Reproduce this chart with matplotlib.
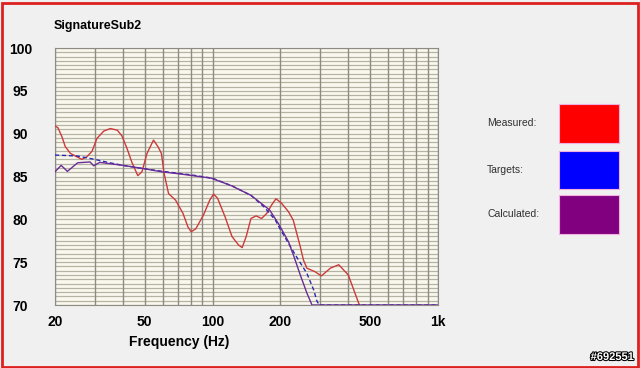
import matplotlib.pyplot as plt
import matplotlib.patheffects as pe
from matplotlib.patches import Rectangle
import numpy as np

plt.rcParams['font.family'] = ['Liberation Sans', 'DejaVu Sans']

# measured response (red)
meas_f = [20, 20.6, 21.5, 22.2, 23.4, 25.0, 26.3, 27.7, 29.2, 30.7, 32.9, 35.2, 37.8,
          39.6, 41.7, 43.8, 46.6, 48.6, 51.2, 54.7, 57.2, 59.3, 60.9, 63.8, 68.5, 73.9,
          77.8, 80.4, 84.3, 91.1, 97.2, 101.1, 105.3, 113.6, 121.9, 130.4, 135.3, 141,
          148, 156, 165, 174, 183, 191, 202, 217, 228, 245, 253, 262, 284, 304, 333,
          363, 400, 445, 470]
meas_db = [90.9, 90.7, 89.6, 88.5, 87.7, 87.3, 87.0, 87.3, 87.95, 89.45, 90.3, 90.6, 90.4,
           89.75, 88.3, 86.7, 85.1, 85.55, 87.7, 89.25, 88.5, 87.7, 85.4, 83.0, 82.25, 80.7,
           79.1, 78.55, 78.9, 80.5, 82.25, 82.95, 82.45, 80.3, 78.0, 77.0, 76.7, 78.0,
           80.1, 80.4, 80.1, 80.7, 81.7, 82.4, 81.9, 80.9, 79.9, 76.8, 75.25, 74.3, 73.9,
           73.4, 74.3, 74.7, 73.5, 70.2, 69.0]

# target response (blue dashed)
targ_f = [20, 25, 30, 35, 40, 50, 60, 80, 100, 122, 148, 170, 190, 200, 236, 262,
          281, 290, 297, 1000]
targ_db = [87.5, 87.4, 87.0, 86.6, 86.3, 85.9, 85.6, 85.2, 84.8, 83.9, 82.8, 81.4,
           79.9, 78.8, 75.6, 73.7, 71.75, 70.5, 70.0, 70.0]

# calculated response (purple)
calc_f = [20, 21.3, 22.7, 25.2, 28.6, 29.7, 31.6, 35, 40, 50, 59.3, 71.8, 98.8, 121.9,
          148, 179, 196, 217, 230, 245, 262, 276, 1000]
calc_db = [85.55, 86.3, 85.6, 86.6, 86.7, 86.25, 86.65, 86.5, 86.3, 85.9, 85.55, 85.3,
           84.8, 83.9, 82.8, 81.1, 79.5, 77.4, 75.6, 73.5, 71.4, 70.0, 70.0]

xticks = [20, 50, 100, 200, 500, 1000]
xlabels = ['20', '50', '100', '200', '500', '1k']
yticks = [70, 75, 80, 85, 90, 95, 100]

legend_names = ['Measured:', 'Targets:', 'Calculated:']
legend_colors = ['#ff0000', '#0000ff', '#800080']

fig = plt.figure(figsize=(6.4, 3.68), dpi=100, facecolor='#f0f0f0')
W, H = 640, 368
ax = fig.add_axes([55 / W, 1 - 305 / H, 383 / W, 257 / H])
ax.set_facecolor('#faf8ee')

ax.set_xscale('log')
ax.set_xlim(20, 1000)
ax.set_ylim(70, 100)

# grid
for y in np.arange(70, 100.01, 0.5):
    ax.axhline(y, color='#b4b4a4', lw=0.9, zorder=1)
for f in [20, 30, 40, 50, 60, 70, 80, 90, 100, 200, 300, 400, 500, 600, 700, 800, 900, 1000]:
    ax.axvline(f, color='#8c8c84', lw=1.0, zorder=1)
for s in ax.spines.values():
    s.set_color('#8c8c84')

ax.plot(meas_f, meas_db, color='#cc3a3a', lw=1.0, zorder=3)
ax.plot(targ_f, targ_db, color='#2828b4', lw=1.0, ls=(0, (3, 2)), zorder=3)
ax.plot(calc_f, calc_db, color='#6a2c96', lw=1.0, zorder=4)

ax.set_xticks(xticks)
ax.set_xticklabels(xlabels)
ax.xaxis.set_minor_locator(plt.NullLocator())
ax.set_yticks(yticks)
ax.tick_params(axis='both', length=0, labelsize=10)
ax.tick_params(axis='x', pad=7)
ax.tick_params(axis='y', pad=25)
for lab in ax.get_xticklabels() + ax.get_yticklabels():
    lab.set_fontweight('bold')
for lab in ax.get_yticklabels():
    lab.set_horizontalalignment('center')

fig.text(54 / W, 1 - 26 / H, 'SignatureSub2', fontsize=9, fontweight='bold', va='center')
fig.text(179 / W, 1 - 342 / H, 'Frequency (Hz)', fontsize=10, fontweight='bold',
         ha='center', va='center')

# legend swatches
ys = [(104, 143), (151, 189), (195, 234)]
for name, col, (y0, y1) in zip(legend_names, legend_colors, ys):
    fig.text(487 / W, 1 - (y0 + y1) / 2 / H, name, fontsize=7.5, va='center', color='#303030')
    fig.patches.append(Rectangle((559 / W, 1 - y1 / H), 60 / W, (y1 - y0) / H,
                                 transform=fig.transFigure, facecolor=col,
                                 edgecolor='#f0b0e0', lw=0.8))

# outer red border
fig.patches.append(Rectangle((1.5 / W, 1.5 / H), 636 / W, 364 / H, transform=fig.transFigure,
                             fill=False, edgecolor='#dd2020', lw=2))

fig.text(634 / W, 1 - 357 / H, '#692551', fontsize=8, fontweight='bold', color='white',
         ha='right', va='center',
         path_effects=[pe.withStroke(linewidth=1.5, foreground='black')])

fig.savefig('out.png', dpi=100, facecolor=fig.get_facecolor())
